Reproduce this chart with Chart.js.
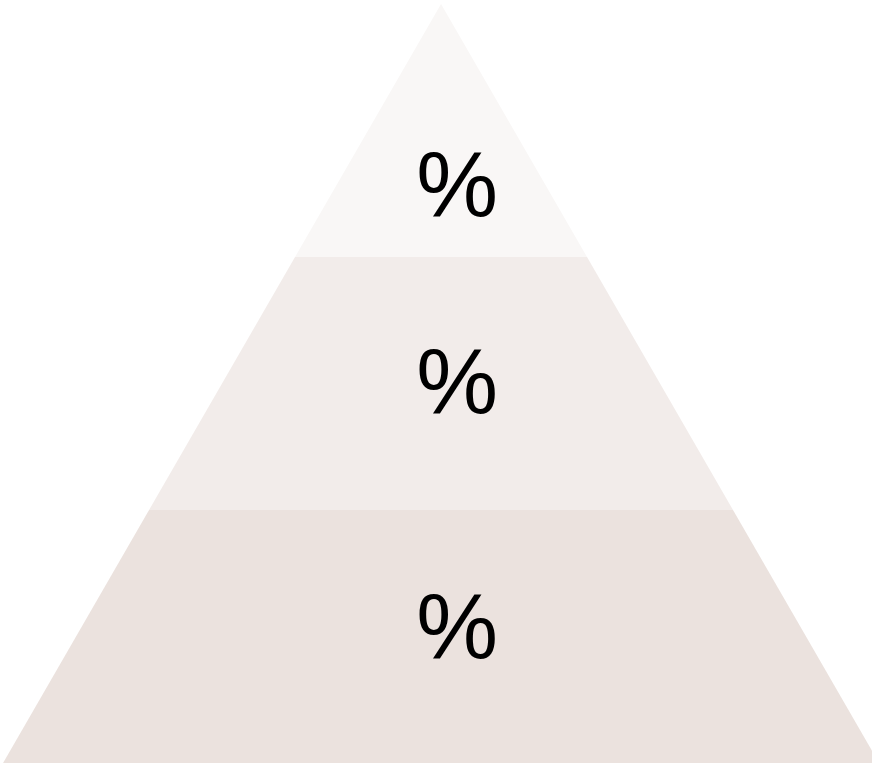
<!DOCTYPE html>
<html>
<head>
<meta charset="utf-8">
<script src="https://cdn.jsdelivr.net/npm/chart.js@4.4.1/dist/chart.umd.min.js"></script>
<style>
  html, body { margin: 0; padding: 0; background: #ffffff; }
  #wrap { width: 872px; height: 764px; }
</style>
</head>
<body>
<div id="wrap"><canvas id="pyramid"></canvas></div>
<script>
// tiers from bottom to top
const tiers = ["Bottom", "Middle", "Top"];
const tierValues = ["", "", ""];
const tierLabels = ["%", "%", "%"];
const tierColors = ["#ebe2de", "#f2ecea", "#f9f7f6"];

const levels = tiers.length;

// half width of the pyramid at a given height (apex at height = levels)
function halfWidth(h) {
    return 1 - h / levels;
}

const datasets = tiers.map(function (name, i) {
    const lo = i, hi = i + 1;
    return {
        label: name,
        data: [
            {x: -halfWidth(lo), y: lo},
            {x: halfWidth(lo), y: lo},
            {x: halfWidth(hi), y: hi},
            {x: -halfWidth(hi), y: hi},
            {x: -halfWidth(lo), y: lo}
        ],
        showLine: true,
        fill: "shape",
        backgroundColor: tierColors[i],
        borderWidth: 0,
        pointRadius: 0,
        tension: 0
    };
});

const labelPlugin = {
    id: "tierLabels",
    afterDatasetsDraw(chart) {
        const ctx = chart.ctx;
        const xs = chart.scales.x, ys = chart.scales.y;
        const yOffsets = [0.514, 0.482, 0.262];
        ctx.save();
        ctx.fillStyle = "#000000";
        ctx.font = "92px 'Liberation Sans', Arial, sans-serif";
        ctx.textAlign = "center";
        ctx.textBaseline = "middle";
        tiers.forEach(function (name, i) {
            const text = tierValues[i] + tierLabels[i];
            ctx.fillText(text, xs.getPixelForValue(0.037), ys.getPixelForValue(i + yOffsets[i]));
        });
        ctx.restore();
    }
};

new Chart(document.getElementById("pyramid"), {
    type: "scatter",
    data: {datasets: datasets},
    options: {
        responsive: true,
        maintainAspectRatio: false,
        animation: false,
        layout: {padding: 0},
        plugins: {
            legend: {display: false},
            tooltip: {enabled: false}
        },
        scales: {
            x: {type: "linear", display: false, min: -1.007, max: 0.984},
            y: {type: "linear", display: false, min: -0.004, max: 3.016}
        }
    },
    plugins: [labelPlugin]
});
</script>
</body>
</html>
